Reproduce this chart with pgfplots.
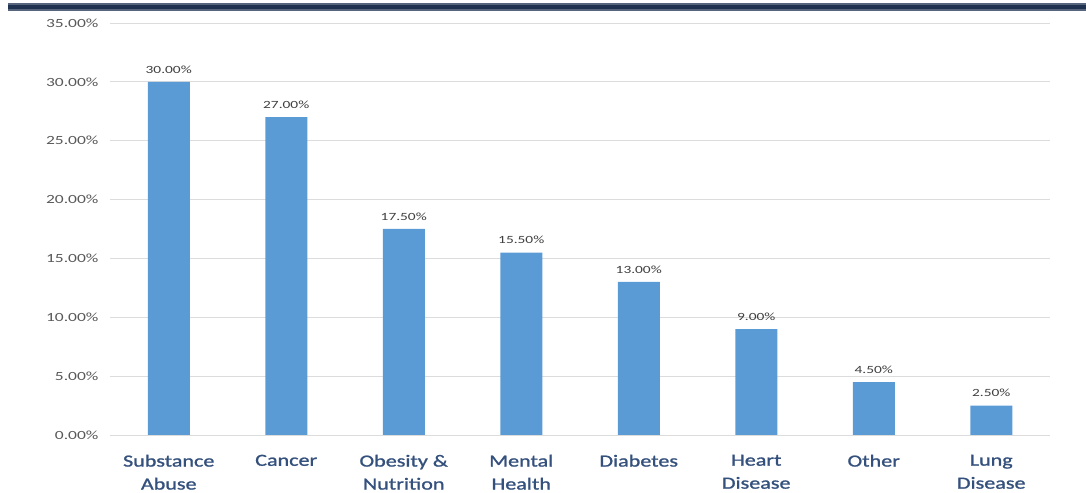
\documentclass[border=0pt]{standalone}
\usepackage{pgfplots}
\pgfplotsset{compat=1.18}
\usepackage{fontspec}
\setmainfont{Carlito}
\newfontfamily\catfont[FakeStretch=1.3, FakeBold=1.2]{Carlito}
\newfontfamily\widefont[FakeStretch=1.4]{Carlito}
\definecolor{barblue}{HTML}{5B9BD5}
\definecolor{catblue}{HTML}{34507C}
\definecolor{navy}{HTML}{1F3350}
\definecolor{gridgray}{HTML}{DCDCDC}
\definecolor{ticktext}{HTML}{595959}
\begin{document}
\begin{tikzpicture}
\useasboundingbox (0,0) rectangle (1086bp,493bp);
\fill[navy!75] (8bp,482bp) rectangle (1086bp,490bp);
\fill[navy] (8bp,484bp) rectangle (1086bp,488bp);
\begin{axis}[
  at={(110bp,58bp)}, anchor=south west,
  scale only axis, width=940bp, height=412bp,
  xmin=-0.5, xmax=7.5, ymin=0, ymax=35,
  ytick={0,5,...,35},
  xtick={0,...,7},
  xticklabels={{Substance\\Abuse},{Cancer},{Obesity \&\\Nutrition},{Mental\\Health},{Diabetes},{Heart\\Disease},{Other},{Lung\\Disease}},
  xticklabel style={align=center, font=\catfont\fontsize{17bp}{23bp}\selectfont, text=catblue, anchor=north, yshift=-12bp},
  yticklabel={\pgfmathprintnumber[fixed,fixed zerofill,precision=2]{\tick}\%},
  /pgf/number format/assume math mode=true,
  yticklabel style={font=\widefont\fontsize{12.5bp}{14bp}\selectfont, text=ticktext, xshift=-8bp},
  ymajorgrids, grid style={gridgray, line width=0.8pt},
  axis line style={draw=none},
  major tick style={draw=none},
  ybar, bar width=42bp,
  nodes near coords={\pgfmathprintnumber[fixed,fixed zerofill,precision=2]{\pgfplotspointmeta}\%},
  nodes near coords style={font=\widefont\fontsize{11bp}{12bp}\selectfont, text=black!75, yshift=5bp},
]
\addplot[fill=barblue, draw=none] coordinates {(0,30) (1,27) (2,17.5) (3,15.5) (4,13) (5,9) (6,4.5) (7,2.5)};
\end{axis}
\end{tikzpicture}
\end{document}
